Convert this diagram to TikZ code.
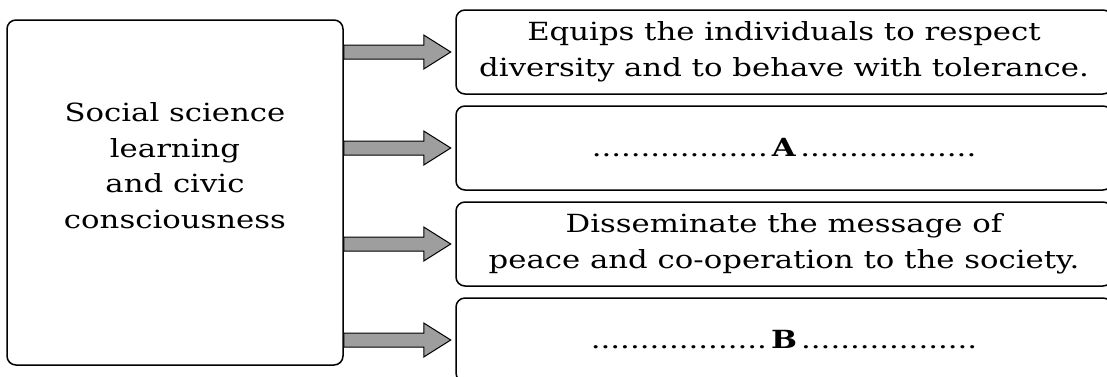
\documentclass[tikz,border=0pt]{standalone}
\usepackage{fontspec}
\setmainfont{DejaVu Serif}[FakeStretch=1.23]
\usetikzlibrary{calc}
\begin{document}
\begin{tikzpicture}[x=1pt,y=-1pt,line width=1.5pt,
  srcbox/.style={draw,rounded corners=9pt,minimum width=336pt,minimum height=345pt},
  outbox/.style={draw,rounded corners=9pt,minimum width=656pt,minimum height=84pt,align=center},
  fatarrow/.style={draw,line width=1pt,fill=black!38},
  node distance=96pt,font=\fontsize{25}{35.5}\selectfont]
\clip (0,0) rectangle (1107,376);
\node[srcbox,label={[align=center,yshift=27pt]center:Social science\\learning\\and civic\\consciousness}] (soc) at (175,192.5) {};
\node[outbox] (b1) at (784,52) {Equips the individuals to respect\\diversity and to behave with tolerance.};
\node[outbox,below of=b1] (b2) {..................\,\textbf{A}\,..................};
\node[outbox,below of=b2] (b3) {Disseminate the message of\\peace and co-operation to the society.};
\node[outbox,below of=b3] (b4) {..................\,\textbf{B}\,..................};
\foreach \b in {b1,b2,b3,b4}
  \draw[fatarrow] (soc.east |- \b.west) ++(0,7) -- ++(80,0) -- ++(0,10) -- ++(27,-17) -- ++(-27,-17) -- ++(0,10) -- ++(-80,0) -- cycle;
\end{tikzpicture}
\end{document}
